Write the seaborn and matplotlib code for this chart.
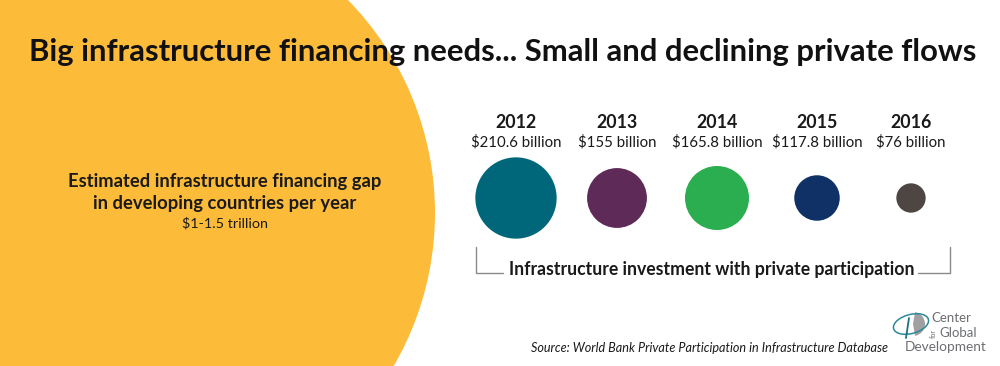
import matplotlib
matplotlib.use("Agg")
import matplotlib.pyplot as plt
from matplotlib.patches import Circle, Ellipse, Wedge
import seaborn as sns
import pandas as pd

# ---- data ----
years = ["2012", "2013", "2014", "2015", "2016"]
values = [210.6, 155.0, 165.8, 117.8, 76.0]          # $ billion
value_labels = ["$210.6 billion", "$155 billion", "$165.8 billion",
                "$117.8 billion", "$76 billion"]
bubble_colors = ["#00677B", "#5E2A57", "#2BAE50", "#0F3166", "#4E4643"]
gap_title = ["Estimated infrastructure financing gap",
             "in developing countries per year"]
gap_label = "$1-1.5 trillion"
title = "Big infrastructure financing needs... Small and declining private flows"
bracket_label = "Infrastructure investment with private participation"
source = "Source: World Bank Private Participation in Infrastructure Database"

# ---- layout (pixel-like coordinates) ----
W, H = 1000, 366
x_pos = [516, 617, 717, 817, 911]
bubble_y = 198
px_per_billion = 1 / 2.59          # diameter in px per $bn

sns.set_theme(style="white")
plt.rcParams["font.family"] = ["Lato", "DejaVu Sans"]

fig = plt.figure(figsize=(10, 3.66), dpi=100)
ax = fig.add_axes([0, 0, 1, 1])

# big yellow circle (financing gap)
ax.add_patch(Circle((131, 213), 304, color="#FDBB3A", lw=0, zorder=0))

# bubbles: diameter proportional to value -> marker area proportional to value^2
df = pd.DataFrame({"year": years, "value": values, "x": x_pos,
                   "y": [bubble_y] * len(years)})
df["area"] = df["value"] ** 2
pt = 72 / 100
smin = (min(values) * px_per_billion * pt) ** 2
smax = (max(values) * px_per_billion * pt) ** 2
sns.scatterplot(data=df, x="x", y="y", hue="year", palette=bubble_colors,
                size="area", sizes=(smin, smax),
                size_norm=(min(values) ** 2, max(values) ** 2),
                legend=False, linewidth=0, ax=ax, zorder=3)
ax.set_xlim(0, W)
ax.set_ylim(H, 0)
ax.axis("off")

# title
ax.text(503, 52, title, ha="center", va="center", fontsize=22.3,
        fontweight="bold", color="#111111")

# gap text
ax.text(225, 182, gap_title[0], ha="center", va="center", fontsize=13.2,
        fontweight="bold", color="#1a1a1a")
ax.text(225, 203, gap_title[1], ha="center", va="center", fontsize=13.2,
        fontweight="bold", color="#1a1a1a")
ax.text(225, 223, gap_label, ha="center", va="center", fontsize=10.4,
        color="#1a1a1a")

# year labels
for x, yr, lab in zip(x_pos, years, value_labels):
    ax.text(x, 123, yr, ha="center", va="center", fontsize=12.8,
            fontweight="bold", color="#1a1a1a")
    ax.text(x, 142, lab, ha="center", va="center", fontsize=10.8,
            color="#1a1a1a")

# bracket
gray = "#8a8a8a"
ax.plot([476, 476, 503], [247, 273, 273], color=gray, lw=1)
ax.plot([918, 950, 950], [273, 273, 247], color=gray, lw=1)
ax.text(712, 270, bracket_label, ha="center", va="center", fontsize=12.7,
        fontweight="bold", color="#1a1a1a")

# source
ax.text(888, 348, source, ha="right", va="center", fontsize=9.1,
        style="italic", color="#1a1a1a")

# logo
lg = "#6d6e71"
ax.add_patch(Wedge((913, 324), 12, -80, 80, color="#a0a0a0", lw=0, zorder=3))
ax.add_patch(Ellipse((911, 324), 36, 19, angle=-15, fill=False,
                     edgecolor="#2a8a9a", lw=1.1, zorder=4))
ax.plot([906, 909], [338, 318], color="#1f7080", lw=1.3, zorder=5)
ax.text(931, 318, "Center", ha="left", va="center", fontsize=9.5, color=lg)
ax.text(939, 333, "Global", ha="left", va="center", fontsize=9.5, color=lg)
ax.text(933, 333, "for", ha="center", va="center", fontsize=5, color=lg,
        rotation=90)
ax.text(946, 347, "Development", ha="center", va="center", fontsize=9.8,
        color=lg)

fig.savefig("out.png", dpi=100, facecolor="white")
